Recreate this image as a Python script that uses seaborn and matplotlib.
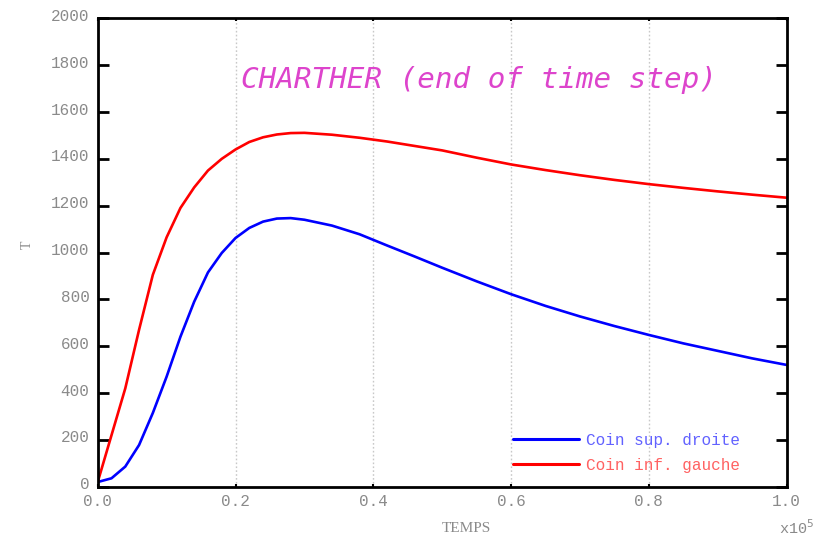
import matplotlib
matplotlib.use("Agg")
import matplotlib.pyplot as plt
import matplotlib.transforms as mtransforms
import seaborn as sns
import pandas as pd

# Time (x1e5 s) and temperature histories at two corners of the plate
temps = [0.00, 0.02, 0.04, 0.06, 0.08, 0.10, 0.12, 0.14, 0.16, 0.18, 0.20,
         0.22, 0.24, 0.26, 0.28, 0.30, 0.34, 0.38, 0.42, 0.46, 0.50, 0.55,
         0.60, 0.65, 0.70, 0.75, 0.80, 0.85, 0.90, 0.95, 1.00]
coin_sup_droite = [20, 36, 86, 178, 315, 470, 640, 790, 915, 998, 1062,
                   1105, 1132, 1145, 1147, 1140, 1115, 1078, 1030, 983, 935, 877,
                   822, 772, 727, 686, 648, 612, 580, 548, 520]
coin_inf_gauche = [20, 220, 420, 670, 905, 1065, 1190, 1278, 1350, 1400, 1440,
                   1472, 1492, 1504, 1510, 1511, 1503, 1490, 1474, 1455, 1436, 1405,
                   1376, 1352, 1330, 1310, 1292, 1276, 1261, 1247, 1234]
series_names = ["Coin sup. droite", "Coin inf. gauche"]
series_colors = ["#0000ff", "#ff0000"]
text_colors = ["#6262ff", "#ff6262"]
x_ticks = [0.0, 0.2, 0.4, 0.6, 0.8, 1.0]
y_ticks = [0, 200, 400, 600, 800, 1000, 1200, 1400, 1600, 1800, 2000]
title = "CHARTHER (end of time step)"

df = pd.DataFrame({
    "TEMPS": temps * 2,
    "T": coin_sup_droite + coin_inf_gauche,
    "courbe": [series_names[0]] * len(temps) + [series_names[1]] * len(temps),
})

sns.set_style("white")
mono = ["Liberation Mono", "DejaVu Sans Mono"]
plt.rcParams["font.family"] = mono

fig = plt.figure(figsize=(8.31, 5.39), dpi=100)
ax = fig.add_axes([0.1176, 0.097, 0.8291, 0.869])

sns.lineplot(data=df, x="TEMPS", y="T", hue="courbe",
             palette=dict(zip(series_names, series_colors)),
             linewidth=1.9, ax=ax, sort=False)

ax.set_xlim(0, 1.0)
ax.set_ylim(0, 2000)
ax.set_xticks(x_ticks)
ax.set_xticklabels([f"{v:.1f}" for v in x_ticks])
ax.set_yticks(y_ticks)
ax.set_yticklabels([str(v) for v in y_ticks])

# dotted vertical grid
for xv in x_ticks[1:-1]:
    ax.axvline(xv, color="#c8c8c8", lw=1.0, ls=(0, (1.2, 1.6)), zorder=0)

for sp in ax.spines.values():
    sp.set_color("black")
    sp.set_linewidth(2.0)
    sp.set_visible(True)

label_grey = "#8a8a8a"
ax.tick_params(axis="y", which="both", direction="in", left=True, right=True,
               length=8, width=2.0, color="black", labelsize=11.5,
               labelcolor=label_grey, pad=6)
ax.tick_params(axis="x", which="both", direction="in", bottom=True, top=True,
               length=2.5, width=1.5, color="black", labelsize=11.5,
               labelcolor=label_grey, pad=5.5)

# lift the y tick labels a little above their ticks
lift = mtransforms.ScaledTranslation(0, 0.035, fig.dpi_scale_trans)
for lab in ax.get_yticklabels():
    lab.set_transform(lab.get_transform() + lift)

ax.set_xlabel("TEMPS", fontsize=11, color=label_grey,
              fontfamily=["Liberation Serif", "DejaVu Serif"])
ax.xaxis.set_label_coords(0.535, -0.076)
ax.set_ylabel("T", fontsize=10, color=label_grey, rotation=90,
              fontfamily=["Liberation Serif", "DejaVu Serif"])
ax.yaxis.set_label_coords(-0.093, 0.516)

ax.text(0.989, -0.088, "x10$^{5}$", transform=ax.transAxes, fontsize=11,
        color=label_grey, ha="left", va="center")

ax.text(0.208, 1735, title, fontsize=21.1, color="#dd44cc",
        fontfamily=["DejaVu Sans Mono"], fontstyle="italic",
        ha="left", va="center")

leg = ax.legend(loc="lower left", bbox_to_anchor=(0.603, 0.03),
                frameon=False, handlelength=4.1, handletextpad=0.45,
                labelspacing=0.62, borderpad=0, borderaxespad=0,
                fontsize=11.5, title=None)
for txt, col in zip(leg.get_texts(), text_colors):
    txt.set_color(col)
for line in leg.get_lines():
    line.set_linewidth(2.2)

fig.savefig("out.png", dpi=100)
